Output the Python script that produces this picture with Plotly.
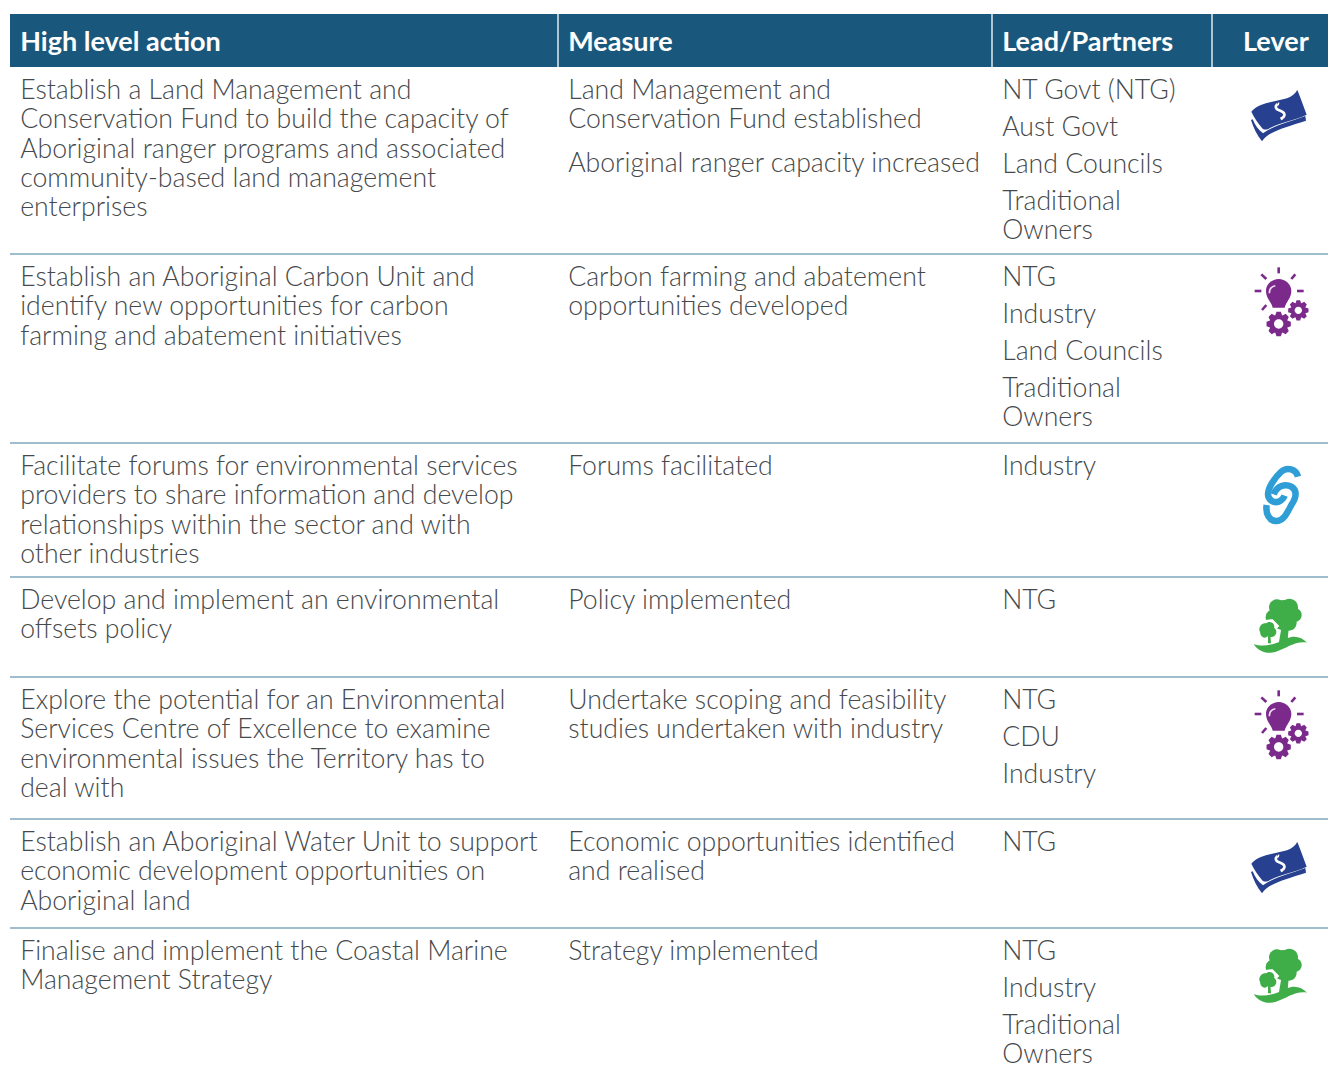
import math
import plotly.graph_objects as go

headers = ["High level action", "Measure", "Lead/Partners", "Lever"]

actions = [
    ["Establish a Land Management and", "Conservation Fund to build the capacity of", "Aboriginal ranger programs and associated", "community-based land management", "enterprises"],
    ["Establish an Aboriginal Carbon Unit and", "identify new opportunities for carbon", "farming and abatement initiatives"],
    ["Facilitate forums for environmental services", "providers to share information and develop", "relationships within the sector and with", "other industries"],
    ["Develop and implement an environmental", "offsets policy"],
    ["Explore the potential for an Environmental", "Services Centre of Excellence to examine", "environmental issues the Territory has to", "deal with"],
    ["Establish an Aboriginal Water Unit to support", "economic development opportunities on", "Aboriginal land"],
    ["Finalise and implement the Coastal Marine", "Management Strategy"],
]
measures = [
    [["Land Management and", "Conservation Fund established"], ["Aboriginal ranger capacity increased"]],
    [["Carbon farming and abatement", "opportunities developed"]],
    [["Forums facilitated"]],
    [["Policy implemented"]],
    [["Undertake scoping and feasibility", "studies undertaken with industry"]],
    [["Economic opportunities identified", "and realised"]],
    [["Strategy implemented"]],
]
leads = [
    [["NT Govt (NTG)"], ["Aust Govt"], ["Land Councils"], ["Traditional", "Owners"]],
    [["NTG"], ["Industry"], ["Land Councils"], ["Traditional", "Owners"]],
    [["Industry"]],
    [["NTG"]],
    [["NTG"], ["CDU"], ["Industry"]],
    [["NTG"]],
    [["NTG"], ["Industry"], ["Traditional", "Owners"]],
]
levers = ["money", "bulb", "link", "tree", "bulb", "money", "tree"]

row_tops = [67, 254, 443, 577, 677, 819, 928]
col_x = [20.2, 568.2, 1002.2]
col_lines = [10, 558, 992, 1212, 1328]
HEAD = "#19587c"
RULE = "#7fa9bd"
INK = "#45494b"
LINE_H = 29.3
FIRST = 25.5
icon_origin = {0: (1212, 70), 1: (1232, 255), 2: (1232, 455), 3: (1232, 590), 4: (1232, 678), 5: (1212, 822), 6: (1232, 940)}

def layout_col(rows, x, para_gap):
    xs, ys, ts = [], [], []
    for top, paras in zip(row_tops, rows):
        y = top + FIRST
        for para in paras:
            for ln in para:
                xs.append(x); ys.append(y); ts.append(ln)
                y += LINE_H
            y += para_gap - LINE_H
    return xs, ys, ts

fig = go.Figure()
shapes = [dict(type="rect", x0=col_lines[0], x1=col_lines[-1], y0=14, y1=67, fillcolor=HEAD, line_width=0, layer="below")]
for cx in col_lines[1:-1]:
    shapes.append(dict(type="line", x0=cx, x1=cx, y0=14, y1=67, line=dict(color="#dfe8ee", width=1.5)))
for t in row_tops[1:]:
    shapes.append(dict(type="line", x0=col_lines[0], x1=col_lines[-1], y0=t, y1=t, line=dict(color=RULE, width=1.5)))

def tr(path, org):
    out, i = [], 0
    for tok in path.split():
        if tok.isalpha():
            out.append(tok)
        else:
            out.append(f"{float(tok) / 3 + org[i % 2]:.2f}")
            i += 1
    return " ".join(out)

def circ(cx, cy, r):
    k = 0.5523 * r
    return (f"M {cx-r} {cy} C {cx-r} {cy-k} {cx-k} {cy-r} {cx} {cy-r} "
            f"C {cx+k} {cy-r} {cx+r} {cy-k} {cx+r} {cy} "
            f"C {cx+r} {cy+k} {cx+k} {cy+r} {cx} {cy+r} "
            f"C {cx-k} {cy+r} {cx-r} {cy+k} {cx-r} {cy} Z")

def add(path, org, fill=None, stroke=None, w=0):
    s = dict(type="path", path=tr(path, org), line=dict(width=w, color=stroke or "rgba(0,0,0,0)"))
    if fill:
        s["fillcolor"] = fill
    shapes.append(s)

def gear(cx, cy, ro, ri, n=8):
    pts = []
    for k in range(n):
        a = 2 * math.pi * k / n
        d = math.pi / n
        for da, r in [(-d*0.95, ri), (-d*0.45, ro), (d*0.45, ro), (d*0.95, ri)]:
            pts.append(f"{cx + r*math.cos(a+da):.1f} {cy + r*math.sin(a+da):.1f}")
    return "M " + " L ".join(pts) + " Z"

def money(o):
    c = "#27408f"
    add("M 117 150 C 125 175 135 195 150 214 C 172 182 222 172 282 152 L 280 138 C 230 158 185 165 153 190 C 140 180 128 165 122 148 Z", o, fill=c)
    add("M 118 125 C 140 98 190 95 225 85 C 240 80 250 70 256 60 C 266 85 276 112 284 134 C 250 152 202 157 174 174 C 165 180 155 180 150 174 C 138 160 126 142 118 125 Z", o, fill=c)
    add("M 196 102 C 188 110 190 118 205 122 C 220 128 222 138 208 146", o, stroke="#ffffff", w=2.6)
    add("M 200 98 L 198 106 M 206 142 L 210 150", o, stroke="#ffffff", w=1.6)

def bulb(o):
    c = "#7b2a8b"
    for seg in ["M 140 37 L 140 55", "M 88 58 L 103 72", "M 190 58 L 178 72", "M 68 108 L 88 108", "M 195 108 L 215 108", "M 90 165 L 103 150"]:
        add(seg, o, stroke=c, w=2.6)
    add("M 122 158 C 118 140 102 130 102 108 C 102 88 120 72 140 72 C 160 72 178 88 178 108 C 178 130 162 140 158 158 Z", o, fill=c)
    add("M 112 115 C 112 102 120 94 130 92", o, stroke="#f1d9f3", w=1.6)
    add(gear(140, 207, 37, 28), o, fill=c)
    add(circ(140, 207, 14), o, fill="#ffffff")
    add(gear(199, 166, 31, 23), o, fill=c)
    add(circ(199, 166, 11), o, fill="#ffffff")

def link(o):
    c = "#2f9ed6"
    add("M 198 65 C 192 42 165 35 148 50 C 128 68 108 98 108 118 C 108 135 125 145 140 140 C 150 136 155 130 158 122", o, stroke=c, w=6.5)
    add("M 104 150 C 100 175 112 200 135 198 C 155 197 165 175 178 150 C 195 125 195 105 178 95 C 160 85 135 92 125 118", o, stroke=c, w=6.5)

def tree(o):
    c = "#3fae49"
    for cx, cy, r in [(135, 52, 24), (172, 52, 26), (188, 75, 21), (125, 82, 24), (155, 85, 36), (155, 58, 28), (170, 98, 24)]:
        add(circ(cx, cy, r), o, fill=c)
    add("M 148 115 L 170 115 L 167 150 L 140 162 Z", o, fill=c)
    add("M 80 150 C 85 125 130 125 142 108 L 122 88 C 95 88 78 100 74 125 Z", o, fill="#ffffff")
    for cx, cy, r in [(100, 118, 18), (113, 110, 14), (118, 126, 15), (98, 130, 13)]:
        add(circ(cx, cy, r), o, fill=c)
    add("M 108 135 L 115 135 L 117 160 L 108 160 Z", o, fill=c)
    add("M 65 162 C 90 172 130 165 165 145 C 185 135 210 140 225 158 C 190 152 165 175 130 186 C 105 193 78 185 65 162 Z", o, fill=c)

draw = dict(money=money, bulb=bulb, link=link, tree=tree)
for i, kind in enumerate(levers):
    draw[kind](icon_origin[i])

body = dict(family="Lato Light, Lato", size=26.65, color=INK, weight=300)
for rows, x, gap in [([[a] for a in actions], col_x[0], LINE_H), (measures, col_x[1], 44), (leads, col_x[2], 37)]:
    xs, ys, ts = layout_col(rows, x, gap)
    fig.add_trace(go.Scatter(x=xs, y=ys, text=ts, mode="text", textposition="middle right", textfont=body, hoverinfo="skip"))

fig.add_trace(go.Scatter(
    x=col_x + [1243], y=[44] * 4, text=headers, mode="text", textposition="middle right",
    textfont=dict(family="Lato", size=27, color="#ffffff", weight=700), hoverinfo="skip"))

fig.update_layout(
    width=1328, height=1066, margin=dict(l=0, r=0, t=0, b=0), showlegend=False,
    paper_bgcolor="#ffffff", plot_bgcolor="#ffffff", shapes=shapes,
    xaxis=dict(range=[0, 1328], visible=False, fixedrange=True),
    yaxis=dict(range=[1066, 0], visible=False, fixedrange=True),
)
fig.write_html("out.html", config=dict(displayModeBar=False),
               post_script="document.body.style.margin='0';document.body.style.overflow='hidden';")
